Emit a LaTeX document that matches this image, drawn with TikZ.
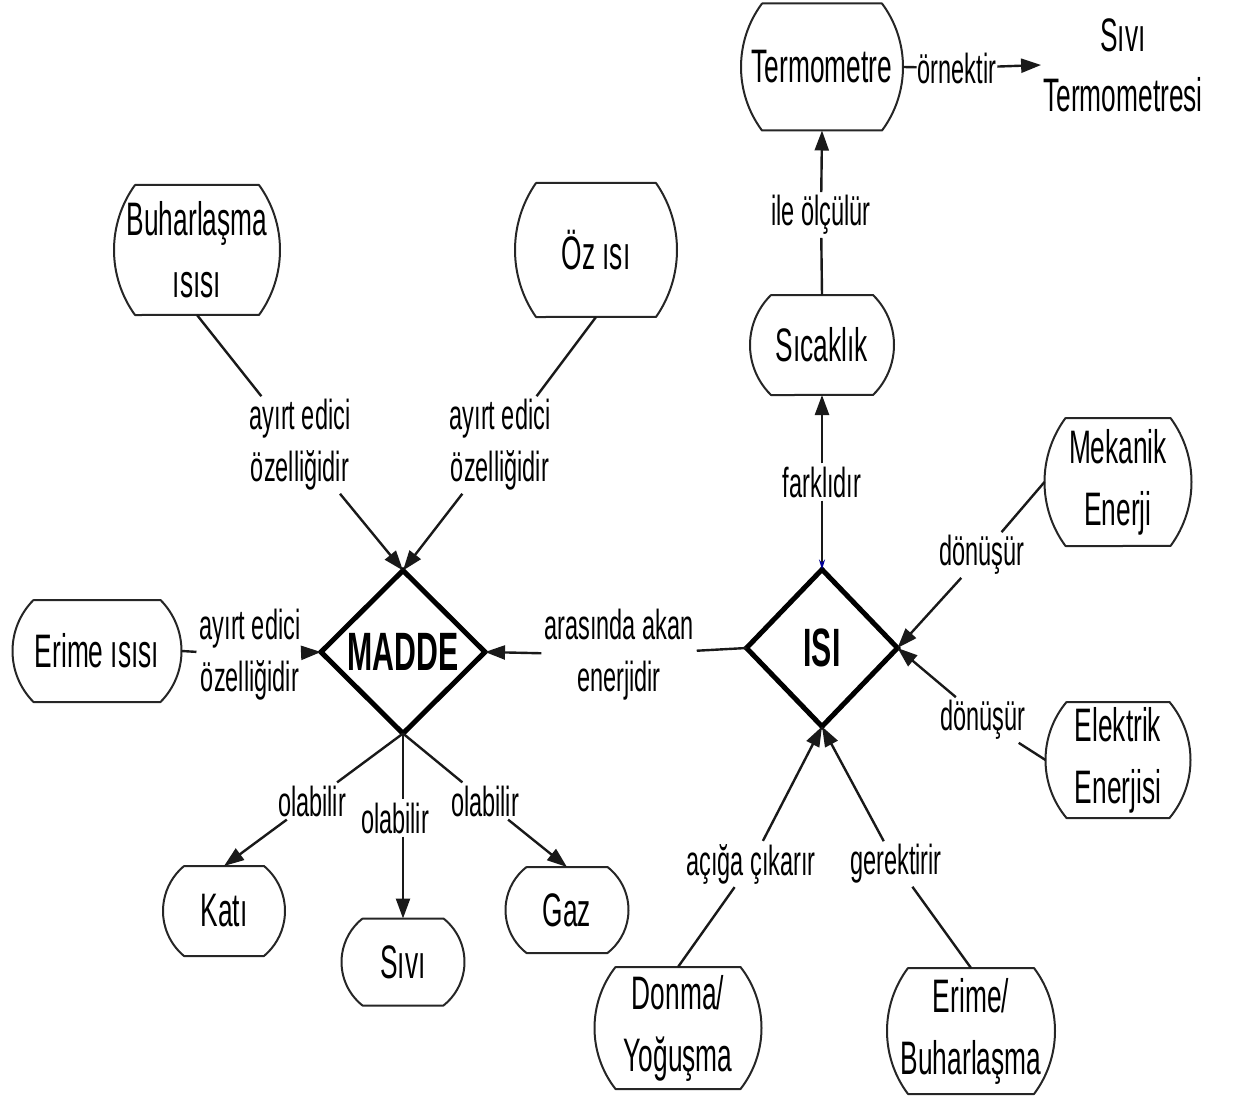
\documentclass[tikz,border=0pt]{standalone}
\usepackage{fontspec}
\setmainfont[FakeStretch=0.56]{Liberation Sans}
\usetikzlibrary{shapes.geometric,arrows.meta,calc}

\tikzset{
  x=1pt,y=1pt,
  boxnode/.style={draw=none, inner sep=0pt, outer sep=0pt, align=center, font=\fontsize{47}{62}\selectfont},
  boxline/.style={draw=black!85, line width=2pt, line join=round},
  lbl/.style={font=\fontsize{42}{52}\selectfont, align=center, inner sep=3pt},
  plain/.style={font=\fontsize{47}{60}\selectfont, align=center, inner sep=2pt},
  conn/.style={line width=2.4pt, draw=black!90},
  arr/.style={conn, -{Triangle[length=20pt,width=14pt]}},
  dia/.style={diamond, draw, line width=5pt, inner sep=0pt, outer sep=0pt, aspect=1,
              font=\fontsize{54}{60}\selectfont\bfseries},
}

% name, cx, cy, w, h, text  -- box with bulging circular ends (sagitta 21)
\newcommand\tbox[6]{%
  \node[boxnode, minimum width=#4pt, minimum height=#5pt] (#1) at (#2,#3) {#6};
  \pgfmathsetmacro\bxH{(#5)/2}%
  \pgfmathsetmacro\bxR{(\bxH*\bxH+21*21)/42}%
  \pgfmathsetmacro\bxA{asin(\bxH/\bxR)}%
  \draw[boxline] ($(#1.north west)+(21,0)$) -- ($(#1.north east)+(-21,0)$)
     arc[start angle=\bxA, end angle=-\bxA, radius=\bxR]
     -- ($(#1.south west)+(21,0)$)
     arc[start angle=180+\bxA, end angle=180-\bxA, radius=\bxR] -- cycle;
}

\begin{document}
\begin{tikzpicture}
\useasboundingbox (0,0) rectangle (1240,-1102);

% boxes
\tbox{term}{822}{-67}{162}{127}{Termometre}
\tbox{sic}{822}{-345}{144}{100}{Sıcaklık}
\tbox{buh}{197}{-250}{166}{130}{Buharlaşma\\ısısı}
\tbox{oz}{596}{-250}{162}{134}{Öz ısı}
\tbox{erimeis}{97}{-651}{169}{102}{Erime ısısı}
\tbox{mek}{1118}{-482}{147}{128}{Mekanik\\Enerji}
\tbox{elek}{1118}{-760}{145}{116}{Elektrik\\Enerjisi}
\tbox{kati}{224}{-911}{122}{90}{Katı}
\tbox{sivi}{403}{-962}{123}{87}{Sıvı}
\tbox{gaz}{567}{-910}{123}{86}{Gaz}
\tbox{donma}{678}{-1028}{167}{122}{Donma/\\Yoğuşma}
\tbox{erbuh}{971}{-1031}{168}{126}{Erime/\\Buharlaşma}

% diamonds
\node[dia, minimum width=164pt, minimum height=163pt] (madde) at (403,-652) {MADDE};
\node[dia, minimum width=151pt, minimum height=157pt] (isi) at (822,-648) {ISI};

% free text
\node[plain] (sivit) at (1123,-65) {Sıvı\\Termometresi};

% labels
\node[lbl] (lbuh) at (300,-445) {ayırt edici\\özelliğidir};
\node[lbl] (loz) at (500,-445) {ayırt edici\\özelliğidir};
\node[lbl] (ler) at (250,-655) {ayırt edici\\özelliğidir};
\node[lbl] (lak) at (619,-655) {arasında akan\\enerjidir};
\node[lbl] (lk) at (312,-801) {olabilir};
\node[lbl] (ls) at (395,-818) {olabilir};
\node[lbl] (lg) at (485,-801) {olabilir};
\node[lbl] (lfar) at (822,-482) {farklıdır};
\node[lbl] (lile) at (821,-215) {ile ölçülür};
\node[lbl, inner xsep=1pt] (lorn) at (957,-68) {örnektir};
\node[lbl] (lmek) at (982,-555) {dönüşür};
\node[lbl] (lel) at (983,-720) {dönüşür};
\node[lbl] (lac) at (751,-864) {açığa çıkarır};
\node[lbl] (lger) at (896,-864) {gerektirir};

% connectors
\draw[conn] (buh.south) -- (lbuh);
\draw[arr] (lbuh) -- (madde.north);
\draw[conn] (oz.south) -- (loz);
\draw[arr] (loz) -- (madde.north);
\draw[conn] (erimeis.east) -- (ler);
\draw[arr] (ler) -- (madde.west);
\draw[conn] (isi.west) -- (lak);
\draw[arr] (lak) -- (madde.east);

\draw[conn] (madde.south) -- (lk);
\draw[arr] (lk) -- (kati.north);
\draw[conn] (madde.south) -- (madde.south |- ls.north);
\draw[arr] (madde.south |- ls.south) -- (sivi.north);
\draw[conn] (madde.south) -- (lg);
\draw[arr] (lg) -- (gaz.north);

\draw[conn, -{Stealth[length=10pt,width=6pt,color=blue!60!black]}] (lfar) -- (isi.north);
\draw[arr] (lfar) -- (sic.south);
\draw[conn] (sic.north) -- (lile);
\draw[arr] (lile) -- (term.south);
\draw[conn] (term.east) -- (lorn);
\draw[arr] (lorn) -- (sivit.west);

\draw[conn] (mek.west) -- (lmek);
\draw[arr] (lmek) -- (isi.east);
\draw[conn] (elek.west) -- (lel);
\draw[arr] (lel) -- (isi.east);
\draw[conn] (donma.north) -- (lac);
\draw[arr] (lac) -- (isi.south);
\draw[conn] (erbuh.north) -- (lger);
\draw[arr] (lger) -- (isi.south);
\end{tikzpicture}
\end{document}
